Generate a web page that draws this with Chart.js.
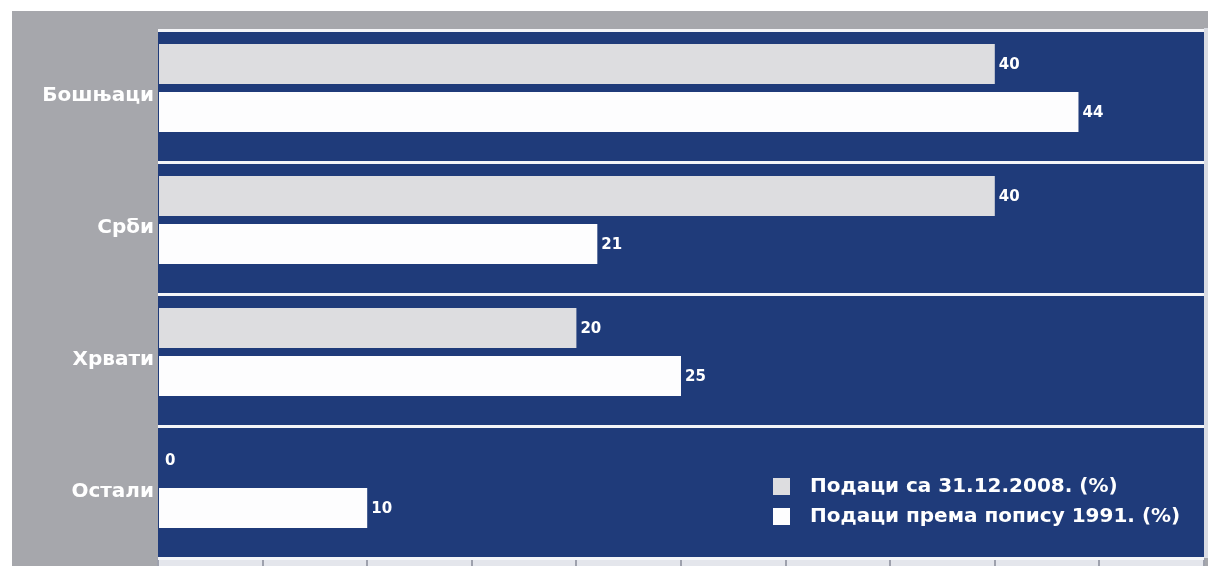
<!DOCTYPE html>
<html lang="sr">
<head>
    <meta charset="UTF-8">
    <title>Бошњаци, Срби, Хрвати, Остали</title>
    <script src="https://cdn.jsdelivr.net/npm/chart.js"></script>
    <style>
        html, body { margin: 0; padding: 0; background: #ffffff; }
        #wrap { width: 1208px; height: 566px; position: relative; }
    </style>
</head>

<body>
    <div id="wrap"><canvas id="popChart"></canvas></div>

    <script>
        // Data
        const categories = ['Бошњаци', 'Срби', 'Хрвати', 'Остали'];
        const data2008 = [40, 40, 20, 0];
        const data1991 = [44, 21, 25, 10];
        const seriesLabels = ['Подаци са 31.12.2008. (%)', 'Подаци према попису 1991. (%)'];
        const xTicks = [0, 5, 10, 15, 20, 25, 30, 35, 40, 45, 50];

        const navy = '#1f3b7a';
        const panelGray = '#a6a7ac';
        const font = "'DejaVu Sans', 'Liberation Sans', Arial, sans-serif";

        // Backgrounds: gray panel, blue plot area, light strip under it
        const backdrop = {
            id: 'backdrop',
            beforeDraw(chart) {
                const c = chart.ctx, a = chart.chartArea;
                c.save();
                c.fillStyle = '#ffffff';
                c.fillRect(0, 0, chart.width, chart.height);
                c.fillStyle = panelGray;
                c.fillRect(12, 11, chart.width - 12, chart.height - 11);
                c.fillStyle = '#d9dbe2';
                c.fillRect(a.right, a.top - 2, chart.width - a.right, a.bottom - a.top + 2);
                c.fillStyle = navy;
                c.fillRect(a.left, a.top, a.right - a.left, a.bottom - a.top);
                c.fillStyle = '#e4e6ec';
                c.fillRect(a.left, a.bottom, a.right - a.left, chart.height - a.bottom);
                c.restore();
            }
        };

        // Value labels at the end of each bar
        const valueLabels = {
            id: 'valueLabels',
            afterDatasetsDraw(chart) {
                const c = chart.ctx;
                c.save();
                c.fillStyle = '#ffffff';
                c.font = 'bold 15px ' + font;
                c.textBaseline = 'middle';
                c.textAlign = 'left';
                chart.data.datasets.forEach((ds, i) => {
                    chart.getDatasetMeta(i).data.forEach((bar, j) => {
                        const gap = ds.data[j] === 0 ? 7 : 4;
                        c.fillText(String(ds.data[j]), bar.x + gap, bar.y + 1);
                    });
                });
                c.restore();
            }
        };

        // Legend inside the last category band
        const innerLegend = {
            id: 'innerLegend',
            afterDraw(chart) {
                const c = chart.ctx;
                c.save();
                c.font = 'bold 20px ' + font;
                c.textBaseline = 'middle';
                chart.data.datasets.forEach((ds, i) => {
                    const y = 486 + i * 30;
                    c.fillStyle = ds.backgroundColor;
                    c.fillRect(773, y - 8, 17, 17);
                    c.fillStyle = '#ffffff';
                    c.fillText(ds.label, 810, y + 1);
                });
                c.restore();
            }
        };

        const ctx = document.getElementById('popChart').getContext('2d');
        const popChart = new Chart(ctx, {
            type: 'bar',
            data: {
                labels: categories,
                datasets: [{
                    label: seriesLabels[0],
                    data: data2008,
                    backgroundColor: '#dddde0',
                    // bars sit in the upper part of each band
                    categoryPercentage: 0.97,
                    barPercentage: 0.625
                }, {
                    label: seriesLabels[1],
                    data: data1991,
                    backgroundColor: '#fdfdfe',
                    categoryPercentage: 0.485,
                    barPercentage: 1.25
                }]
            },
            options: {
                indexAxis: 'y',
                responsive: true,
                maintainAspectRatio: false,
                devicePixelRatio: 1,
                animation: false,
                layout: { padding: { top: 30, right: 4, left: 0, bottom: 0 } },
                plugins: {
                    legend: { display: false },
                    tooltip: { enabled: false }
                },
                scales: {
                    x: {
                        min: 0,
                        max: 50,
                        afterBuildTicks: (scale) => { scale.ticks = xTicks.map(v => ({ value: v })); },
                        ticks: { display: false },
                        grid: { drawOnChartArea: false, tickLength: 8, color: '#9ea1ad', lineWidth: 2 },
                        border: { display: false },
                        afterFit: (scale) => { scale.height = 8; scale.paddingLeft = 0; scale.paddingRight = 0; }
                    },
                    y: {
                        ticks: {
                            color: '#ffffff',
                            font: { family: font, size: 20, weight: 'bold' },
                            padding: 4
                        },
                        grid: { offset: true, color: '#f4f5f8', lineWidth: 3, drawTicks: false },
                        border: { display: false },
                        afterFit: (scale) => {
                            scale.width = 158;
                            scale.paddingTop = 0;
                            scale.paddingBottom = 0;
                        }
                    }
                }
            },
            plugins: [backdrop, valueLabels, innerLegend]
        });
    </script>
</body>
</html>
